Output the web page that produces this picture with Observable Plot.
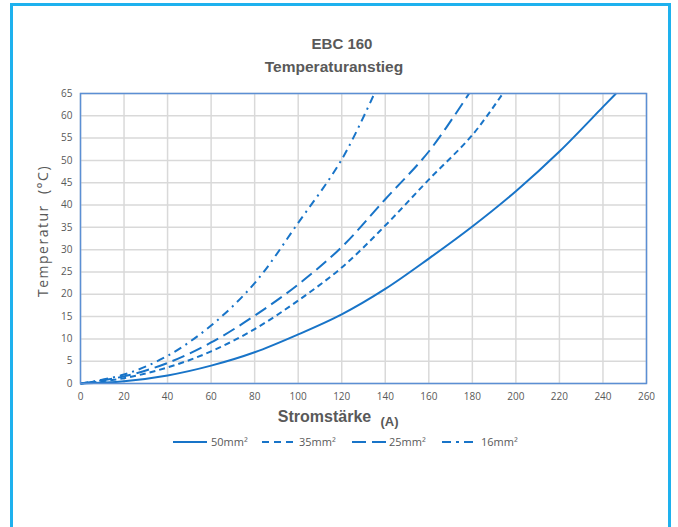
<!DOCTYPE html>
<html><head><meta charset="utf-8">
<script src="https://cdn.jsdelivr.net/npm/d3@7"></script>
<script src="https://cdn.jsdelivr.net/npm/@observablehq/plot@0.6"></script>
<style>
body{margin:0;background:#fff;}
#wrap{position:relative;width:678px;height:527px;overflow:hidden;font-family:"Liberation Sans",Arial,sans-serif;color:#595959;}
#frame{position:absolute;left:10px;top:3px;width:661px;height:600px;border:3px solid #1eb1ee;box-sizing:border-box;}
.title{position:absolute;left:0;width:684px;text-align:center;font-weight:bold;white-space:nowrap;}
#chart{position:absolute;left:0;top:0;}
#ylab{position:absolute;left:43px;top:231px;transform:translate(-50%,-50%) rotate(-90deg);font-family:"Open Sans",sans-serif;font-size:14px;letter-spacing:1.5px;white-space:pre;line-height:18px;color:#595959;}
.lg{position:absolute;top:433px;height:18px;font-family:"Open Sans",sans-serif;font-size:11px;line-height:18px;}
.lg svg{position:absolute;top:0;}
</style></head>
<body>
<div id="wrap">
  <div id="frame"></div>
  <div class="title" style="top:35px;font-size:15px;">EBC 160</div>
  <div class="title" style="top:58px;font-size:15.5px;left:-8px;">Temperaturanstieg</div>
  <div id="chart"></div>
  <div id="ylab">Temperatur  (°C)</div>
  <div id="legend"></div>
</div>
<script>
const xTicks = [0,20,40,60,80,100,120,140,160,180,200,220,240,260];
const yTicks = [0,5,10,15,20,25,30,35,40,45,50,55,60,65];

const seriesNames = ["50mm²","35mm²","25mm²","16mm²"];

const current50 = [0,20,40,60,80,100,120,140,160,180,200,220,240,246];
const temp50    = [0,0.5,1.8,4,7,11,15.5,21.2,28,35.2,43.1,52,62,65];

const current35 = [0,20,40,60,80,100,120,140,160,180,194];
const temp35    = [0,1.2,3.6,7.2,12.2,18.6,26,35.4,45.7,55.7,65];

const current25 = [0,20,40,60,80,100,120,140,160,178.5];
const temp25    = [0,1.6,4.6,9.2,15.2,22.2,30.6,41.3,52,65];

const current16 = [0,20,40,60,80,100,120,135];
const temp16    = [0,2,6.2,13,22.5,36,50.2,65];

const series = [
  {name: seriesNames[0], x: current50, y: temp50, dash: null},
  {name: seriesNames[1], x: current35, y: temp35, dash: "6,4"},
  {name: seriesNames[2], x: current25, y: temp25, dash: "13,6"},
  {name: seriesNames[3], x: current16, y: temp16, dash: "8,5,2,5"}
];
const lineColor = "#1874c8";

const lineMarks = series.map(s => Plot.line(
  s.x.map((x, i) => ({x, y: s.y[i]})),
  {x: "x", y: "y", stroke: lineColor, strokeWidth: 2, curve: "catmull-rom",
   strokeDasharray: s.dash ?? undefined, strokeLinecap: "butt"}
));

const chart = Plot.plot({
  width: 678, height: 430,
  marginLeft: 80, marginRight: 32, marginTop: 93, marginBottom: 47,
  x: {domain: [0, 260], label: null},
  y: {domain: [0, 65], label: null},
  style: {fontFamily: "'Open Sans', sans-serif", fontSize: "10px", color: "#595959", background: "transparent", overflow: "visible"},
  marks: [
    Plot.gridX(xTicks, {stroke: "#d9d9d9", strokeOpacity: 1, strokeWidth: 1.5}),
    Plot.gridY(yTicks, {stroke: "#d9d9d9", strokeOpacity: 1, strokeWidth: 1.5}),
    Plot.axisX(xTicks, {tickSize: 0, tickPadding: 9, fill: "#595959"}),
    Plot.axisY(yTicks, {tickSize: 0, tickPadding: 8, fill: "#595959"}),
    ...lineMarks,
    Plot.frame({stroke: "#5b8fd4", strokeWidth: 1.5}),
    Plot.text(["Stromstärke"], {frameAnchor: "bottom", dx: -39, dy: 38, fontSize: 16, fontWeight: "bold", fill: "#595959", fontFamily: "Liberation Sans, Arial, sans-serif"}),
    Plot.text(["(A)"], {frameAnchor: "bottom", dx: 26, dy: 42, fontSize: 13, fontWeight: "bold", fill: "#595959", fontFamily: "Liberation Sans, Arial, sans-serif"})
  ]
});
document.getElementById("chart").appendChild(chart);

// legend
const legendPos = [
  {lx: 173, lw: 34, tx: 211},
  {lx: 262, lw: 35, tx: 299},
  {lx: 352, lw: 35, tx: 389},
  {lx: 442, lw: 31, tx: 481}
];
const legendDash = [null, "7,5", "14,6", "9,5,3,5"];
const legend = document.getElementById("legend");
series.forEach((s, i) => {
  const p = legendPos[i];
  const item = document.createElement("div");
  item.className = "lg";
  item.style.left = p.lx + "px";
  item.style.width = (p.tx - p.lx + 50) + "px";
  item.innerHTML = `<svg width="${p.lw}" height="18" style="left:0"><line x1="0" x2="${p.lw}" y1="9" y2="9" stroke="${lineColor}" stroke-width="2" ${legendDash[i] ? `stroke-dasharray="${legendDash[i]}"` : ""}/></svg><span style="position:absolute;left:${p.tx - p.lx}px;top:0">${s.name}</span>`;
  legend.appendChild(item);
});
</script>
</body></html>
